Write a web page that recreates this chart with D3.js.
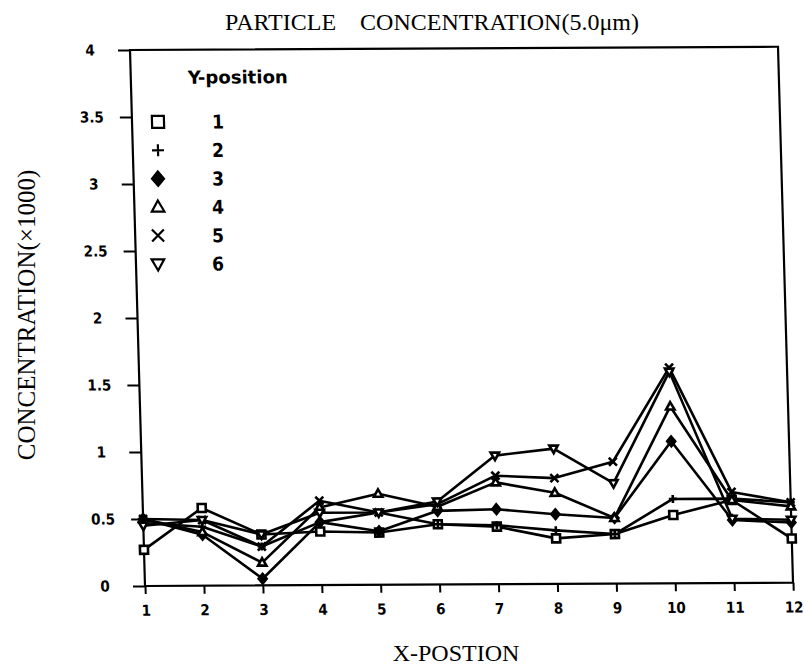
<!DOCTYPE html>
<html>
<head>
<meta charset="utf-8">
<script src="https://cdn.jsdelivr.net/npm/d3@7"></script>
<style>
  body { margin: 0; background: #fff; }
  .tick text, .plotter { font-family: 'DejaVu Sans Condensed', 'DejaVu Sans', sans-serif; font-weight: bold; }
  .serif { font-family: 'Liberation Serif', 'DejaVu Serif', serif; }
</style>
</head>
<body>
<svg id="chart" width="804" height="672"></svg>
<script>
// values (concentration x1000)
const xPositions = [1, 2, 3, 4, 5, 6, 7, 8, 9, 10, 11, 12];
const yPositions = ['1', '2', '3', '4', '5', '6'];
const pos1 = [0.27, 0.58, 0.38, 0.40, 0.39, 0.45, 0.43, 0.34, 0.37, 0.51, 0.62, 0.33];
const pos2 = [0.47, 0.44, 0.29, 0.47, 0.54, 0.45, 0.44, 0.40, 0.37, 0.63, 0.63, 0.60];
const pos3 = [0.50, 0.38, 0.05, 0.47, 0.40, 0.55, 0.56, 0.52, 0.49, 1.06, 0.47, 0.45];
const pos4 = [0.50, 0.40, 0.17, 0.58, 0.68, 0.58, 0.76, 0.68, 0.49, 1.32, 0.62, 0.57];
const pos5 = [0.50, 0.49, 0.29, 0.63, 0.54, 0.60, 0.81, 0.79, 0.91, 1.61, 0.68, 0.60];
const pos6 = [0.45, 0.49, 0.38, 0.54, 0.54, 0.62, 0.96, 1.01, 0.75, 1.58, 0.48, 0.47];
const yTicks = [0, 0.5, 1, 1.5, 2, 2.5, 3, 3.5, 4];
const yTickLabels = ['0', '0.5', '1', '1.5', '2', '2.5', '3', '3.5', '4'];

const series = [pos1, pos2, pos3, pos4, pos5, pos6];
const markers = ['square', 'plus', 'diamond', 'triangle', 'x', 'down'];

const svg = d3.select('#chart');
const W = 648, H = 536;

// the scan is slightly skewed: left edge leans ~15px over the plot height
const g = svg.append('g').attr('transform', `matrix(1,-0.005,0.028,1,130,50)`);

const x = d3.scaleLinear().domain([1, 12]).range([0, W]);
const y = d3.scaleLinear().domain([0, 4]).range([H, 0]);

// plot frame
g.append('rect').attr('width', W).attr('height', H)
  .attr('fill', 'none').attr('stroke', '#000').attr('stroke-width', 2.2);

const xAxis = g.append('g').attr('transform', `translate(0,${H})`)
  .call(d3.axisBottom(x).tickValues(xPositions).tickFormat(d3.format('d')).tickSize(8).tickPadding(11).tickSizeOuter(0));
const yAxis = g.append('g')
  .call(d3.axisLeft(y).tickValues(yTicks).tickFormat((d, i) => yTickLabels[i]).tickSize(12).tickPadding(0).tickSizeOuter(0));
[xAxis, yAxis].forEach(a => {
  a.select('.domain').remove();
  a.selectAll('.tick line').attr('stroke', '#000').attr('stroke-width', 2);
  a.selectAll('.tick text').attr('fill', '#000').style('font-size', '15px');
});
// plotter output centres the y labels in a column left of the ticks
yAxis.selectAll('.tick text').attr('x', -40).attr('text-anchor', 'middle');

function markerPath(type, size) {
  const s = size / 2;
  switch (type) {
    case 'square': return `M${-s},${-s}H${s}V${s}H${-s}Z`;
    case 'plus': return `M${-s},0H${s}M0,${-s}V${s}`;
    case 'diamond': return `M0,${-s * 1.2}L${s},0L0,${s * 1.2}L${-s},0Z`;
    case 'triangle': return `M0,${-s * 1.1}L${s * 1.05},${s * 0.75}L${-s * 1.05},${s * 0.75}Z`;
    case 'x': return `M${-s},${-s}L${s},${s}M${s},${-s}L${-s},${s}`;
    case 'down': return `M0,${s * 1.1}L${s * 1.05},${-s * 0.75}L${-s * 1.05},${-s * 0.75}Z`;
  }
}

const line = d3.line().x((d, i) => x(xPositions[i])).y(d => y(d));

series.forEach(vals => {
  g.append('path').datum(vals).attr('d', line)
    .attr('fill', 'none').attr('stroke', '#000').attr('stroke-width', 2.6).attr('stroke-linejoin', 'round');
});
series.forEach((vals, si) => {
  g.selectAll(null).data(vals).enter().append('path')
    .attr('transform', (d, i) => `translate(${x(xPositions[i])},${y(d)})`)
    .attr('d', markerPath(markers[si], 8))
    .attr('fill', markers[si] === 'diamond' ? '#000' : '#fff')
    .attr('stroke', '#000').attr('stroke-width', 2.6);
});

// legend
g.append('text').attr('class', 'plotter').attr('x', 57).attr('y', 34)
  .attr('textLength', 100).attr('lengthAdjust', 'spacingAndGlyphs')
  .style('font-size', '18px').text('Y-position');
yPositions.forEach((name, i) => {
  const ly = 72 + i * 28.4;
  g.append('path').attr('transform', `translate(${28 - ly * 0.028},${ly})`)
    .attr('d', markerPath(markers[i], 12))
    .attr('fill', markers[i] === 'diamond' ? '#000' : 'none')
    .attr('stroke', '#000').attr('stroke-width', 2.2);
  g.append('text').attr('class', 'plotter').attr('x', 82 - ly * 0.028).attr('y', ly + 7)
    .style('font-size', '19px').text(name);
});

// titles
svg.append('text').attr('class', 'serif').attr('x', 432).attr('y', 30)
  .attr('text-anchor', 'middle').style('font-size', '24px')
  .text('PARTICLE\u00a0\u00a0\u00a0\u00a0CONCENTRATION(5.0\u03bcm)');
svg.append('text').attr('class', 'serif').attr('x', 456).attr('y', 661)
  .attr('text-anchor', 'middle').style('font-size', '24px').text('X-POSTION');
svg.append('text').attr('class', 'serif')
  .attr('transform', 'translate(35,315) rotate(-90)')
  .attr('text-anchor', 'middle').style('font-size', '25px').text('CONCENTRATION(\u00d71000)');
</script>
</body>
</html>
